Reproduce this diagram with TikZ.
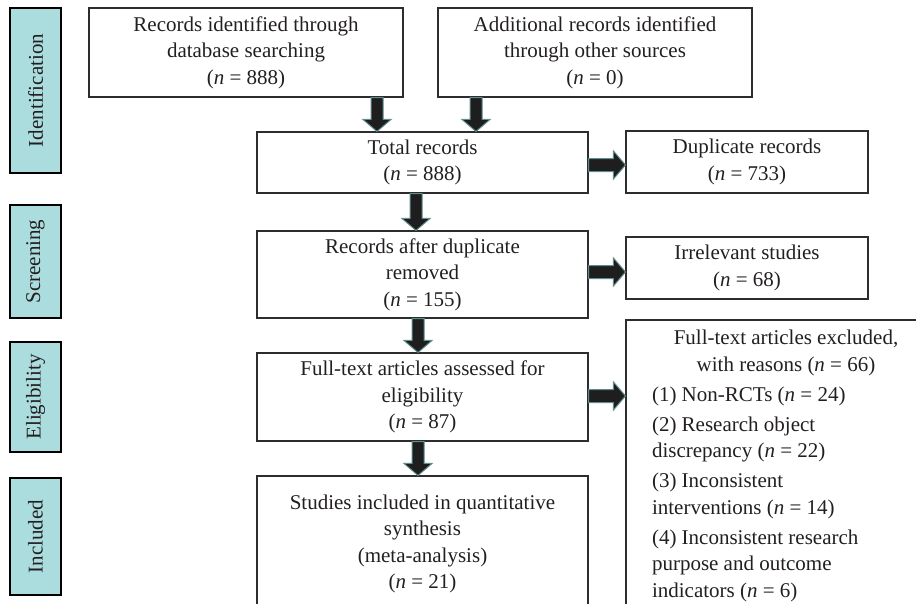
\documentclass[tikz,border=0pt]{standalone}
\usepackage{fontspec}
\setmainfont{Liberation Serif}
\usetikzlibrary{calc}
\definecolor{sidefill}{RGB}{172,221,222}
\definecolor{arrfill}{RGB}{30,30,30}
\definecolor{arredge}{RGB}{95,140,142}
\definecolor{boxedge}{RGB}{45,45,45}
\definecolor{txt}{RGB}{35,31,32}
\tikzset{
  box/.style={draw=boxedge, line width=1.1pt, align=center, text=txt,
    font=\fontsize{21}{26.5}\selectfont, inner sep=0pt},
  sidebox/.style={draw=black, line width=2pt, fill=sidefill, rotate=90,
    font=\fontsize{21}{26}\selectfont, text=txt, inner sep=0pt, minimum height=51},
  fatarr/.style={fill=arrfill, draw=arredge, line width=1pt, line join=miter},
}
\newcommand\fatdown[3]{%
  \filldraw[fatarr] let \p1=(#2.south -| #1,0), \p2=(#3.north -| #1,0) in
    (\x1-6pt,\y1) -- (\x1+6pt,\y1) -- (\x1+6pt,\y2+12pt) -- (\x1+14pt,\y2+12pt)
    -- (\x1,\y2) -- (\x1-14pt,\y2+12pt) -- (\x1-6pt,\y2+12pt) -- cycle;}
\newcommand\fatright[3]{%
  \filldraw[fatarr] let \p1=(#2.east |- 0,#1), \p2=(#3.west |- 0,#1) in
    (\x1,\y1+6.5pt) -- (\x2-12pt,\y1+6.5pt) -- (\x2-12pt,\y1+14pt) -- (\x2,\y1)
    -- (\x2-12pt,\y1-14pt) -- (\x2-12pt,\y1-6.5pt) -- (\x1,\y1-6.5pt) -- cycle;}
\begin{document}
\begin{tikzpicture}[x=1pt,y=-1pt]
\useasboundingbox (0,0) rectangle (916,603);
\clip (0,0) rectangle (916,603);
% side labels
\node[sidebox, minimum width=165] (ident) at (35.5,90.5) {Identification};
\node[sidebox, minimum width=113] (screen) at (35.5,261.5) {Screening};
\node[sidebox, minimum width=110] (elig) at (35.5,397) {Eligibility};
\node[sidebox, minimum width=117] (incl) at (35.5,536.5) {Included};
% boxes
\node[box, minimum width=314, minimum height=89] (db) at (246,52.5)
  {Records identified through\\database searching\\(\textit{n} = 888)};
\node[box, minimum width=314, minimum height=89] (other) at (595,52.5)
  {Additional records identified\\through other sources\\(\textit{n} = 0)};
\node[box, minimum width=331, minimum height=61] (total) at (422.5,162.5)
  {Total records\\(\textit{n} = 888)};
\node[box, minimum width=242, minimum height=62] (dup) at (747,162)
  {Duplicate records\\(\textit{n} = 733)};
\node[box, minimum width=331, minimum height=87] (recdup) at (422.5,274.5)
  {Records after duplicate\\removed\\(\textit{n} = 155)};
\node[box, minimum width=242, minimum height=62] (irr) at (747,268)
  {Irrelevant studies\\(\textit{n} = 68)};
\node[box, minimum width=331, minimum height=88] (full) at (422.5,397)
  {Full-text articles assessed for\\eligibility\\(\textit{n} = 87)};
\node[box, minimum width=331, minimum height=136] (studies) at (422.5,544)
  {Studies included in quantitative\\synthesis\\(meta-analysis)\\(\textit{n} = 21)};
\node[box, align=none, minimum width=320, minimum height=292, text width=268] (exc) at (786,466)
  {{\centering Full-text articles excluded,\\with reasons (\textit{n} = 66)\par}
   \raggedright
   \vspace{3.5pt}(1) Non-RCTs (\textit{n} = 24)\par
   \vspace{3.5pt}(2) Research object\\discrepancy (\textit{n} = 22)\par
   \vspace{3.5pt}(3) Inconsistent\\interventions (\textit{n} = 14)\par
   \vspace{3.5pt}(4) Inconsistent research\\purpose and outcome\\indicators (\textit{n} = 6)\par};
% arrows
\fatdown{377}{db}{total}
\fatdown{476}{other}{total}
\fatdown{416}{total}{recdup}
\fatdown{418}{recdup}{full}
\fatdown{418}{full}{studies}
\fatright{165}{total}{dup}
\fatright{272}{recdup}{irr}
\fatright{396}{full}{exc}
\end{tikzpicture}
\end{document}
